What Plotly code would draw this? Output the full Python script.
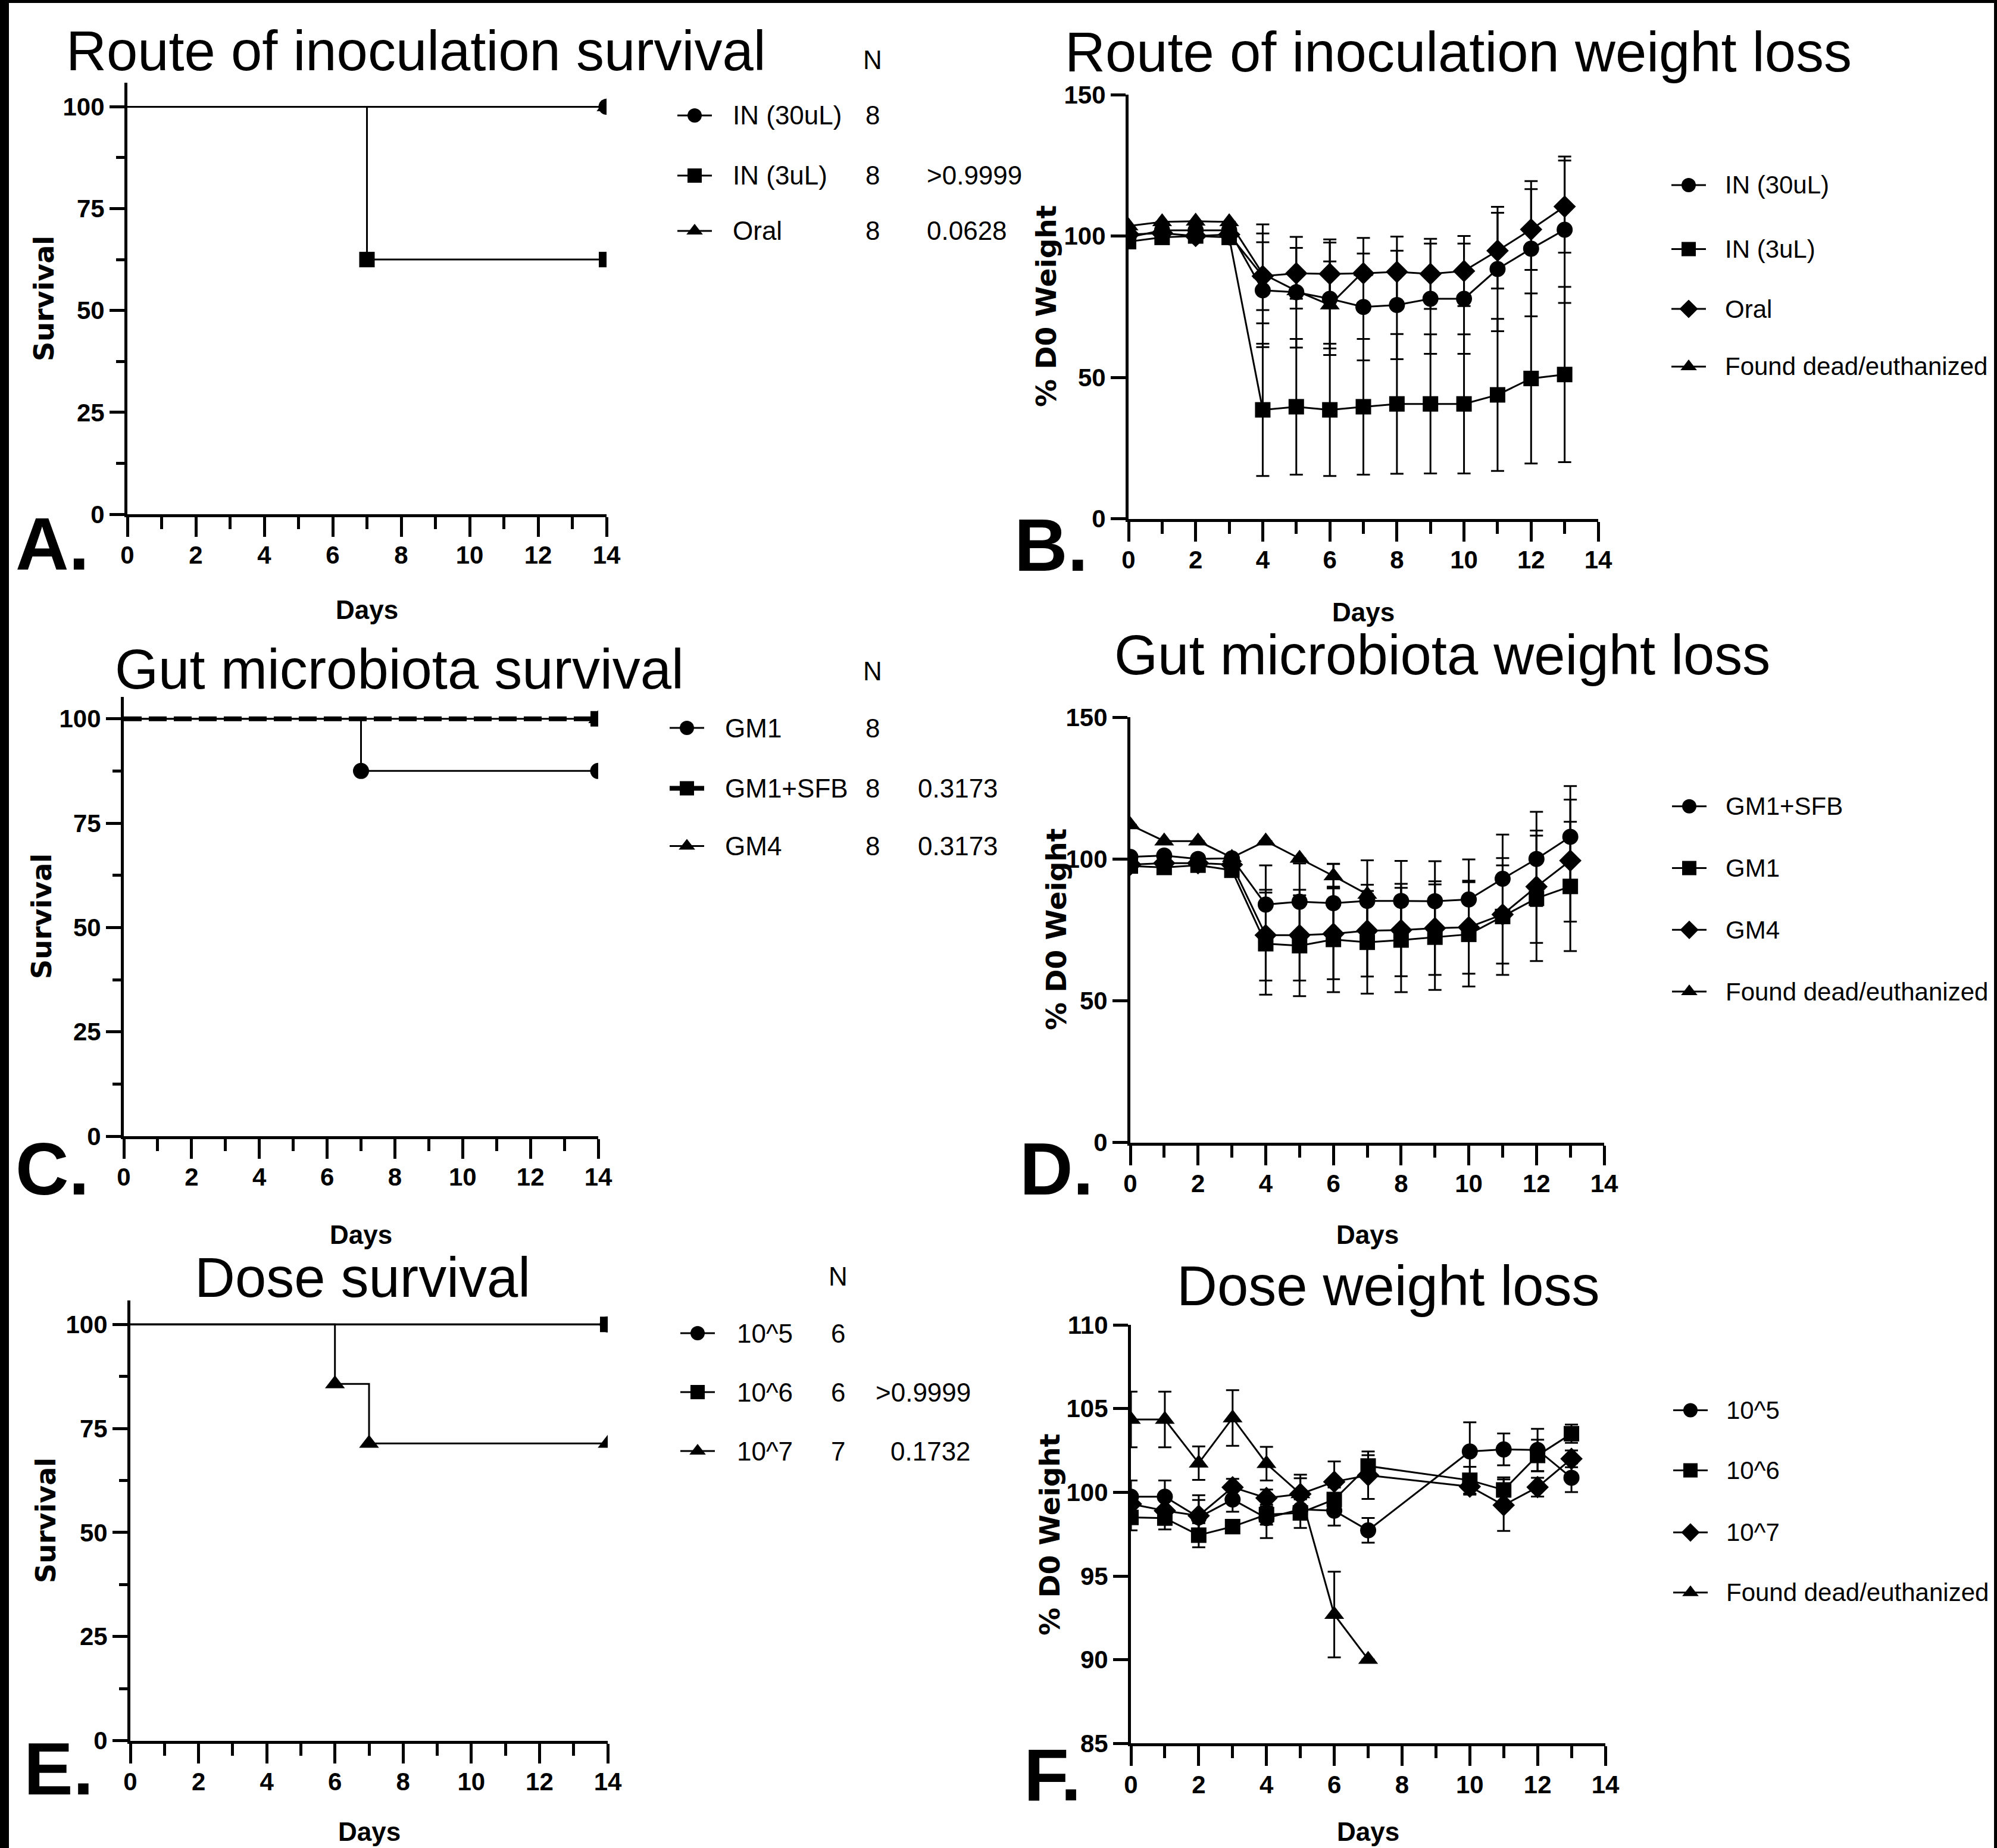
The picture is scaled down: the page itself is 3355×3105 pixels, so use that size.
import plotly.graph_objects as go

W, H = 3355, 3105

# ---------------- DATA ----------------
# Panel A: route of inoculation survival (Kaplan-Meier)
A_labels = ["IN (30uL)", "IN (3uL)", "Oral"]
A_n = ["8", "8", "8"]
A_p = ["", ">0.9999", "0.0628"]
A_in30_days = [0, 14]
A_in30_surv = [100, 100]
A_in3_days = [0, 7, 14]
A_in3_surv = [100, 62.5, 62.5]
A_oral_days = [0, 14]
A_oral_surv = [100, 100]

# Panel B: route of inoculation weight loss
B_labels = ["IN (30uL)", "IN (3uL)", "Oral", "Found dead/euthanized"]
B_days = [0, 1, 2, 3, 4, 5, 6, 7, 8, 9, 10, 11, 12, 13]
B_in30 = [99.5, 102, 102, 102, 80.8, 80.1, 77.8, 74.9, 75.6, 77.8, 77.8, 88.3, 95.5, 102.2]
B_in30_err = [None, None, None, None, 20.1, 19.6, 19.9, 18.9, 19.2, 19.5, 19.5, 22.0, 23.9, 25.9]
B_in3 = [98, 99.5, 100, 99.5, 38.5, 39.6, 38.5, 39.6, 40.6, 40.6, 40.6, 43.8, 49.6, 51.0]
B_in3_err = [None, None, None, None, 23.4, 24.0, 23.4, 24.0, 24.7, 24.6, 24.6, 26.9, 30.1, 31.0]
B_oral = [100.5, 101, 100, 100.5, 85.8, 86.8, 86.6, 86.8, 87.3, 86.6, 87.6, 94.8, 102.3, 110.4]
B_oral_err = [None, None, None, None, 12.0, 9.0, 12.2, 12.5, 12.5, 12.4, 12.4, 13.4, 14.3, 16.3]
B_dead_days = [0, 1, 2, 3, 4, 5, 6, 7]
B_dead = [103.5, 105, 105.2, 105, 86.6, 80.6, 75.6, 87.4]
B_dead_err = [None, None, None, None, 17.5, 6.3, 15.4, None]

# Panel C: gut microbiota survival
C_labels = ["GM1", "GM1+SFB", "GM4"]
C_n = ["8", "8", "8"]
C_p = ["", "0.3173", "0.3173"]
C_gm1_days = [0, 7, 14]
C_gm1_surv = [100, 87.5, 87.5]
C_sfb_days = [0, 14]
C_sfb_surv = [100, 100]
C_gm4_days = [0, 14]
C_gm4_surv = [100, 100]

# Panel D: gut microbiota weight loss
D_labels = ["GM1+SFB", "GM1", "GM4", "Found dead/euthanized"]
D_days = [0, 1, 2, 3, 4, 5, 6, 7, 8, 9, 10, 11, 12, 13]
D_sfb = [100.7, 101.2, 100, 100.2, 83.9, 84.9, 84.4, 85.2, 85.2, 85.1, 85.7, 93.0, 100.0, 107.8]
D_sfb_err = [None, None, None, None, 13.8, 13.5, 13.9, 14.3, 14.1, 14.1, 14.1, 15.6, 16.6, 17.9]
D_gm1 = [97.5, 97.0, 97.8, 96.0, 70.1, 69.4, 71.6, 70.6, 71.4, 72.4, 73.4, 79.7, 86.1, 90.3]
D_gm1_err = [None, None, None, None, 18.0, 17.8, 18.6, 18.1, 18.4, 18.6, 18.4, 20.6, 22.1, 22.8]
D_gm4 = [98.0, 98.5, 98.5, 98.0, 73.1, 73.1, 73.6, 74.7, 74.9, 75.6, 75.9, 80.4, 90.2, 99.4]
D_gm4_err = [None, None, None, None, 16.0, 16.0, 16.0, 16.2, 16.3, 16.5, 16.4, 17.3, 19.8, 21.5]
D_dead_days = [0, 1, 2, 3, 4, 5, 6, 7]
D_dead = [112.0, 106.3, 106.3, 100.5, 106.3, 100.2, 94.0, 87.5]
D_dead_err = [None, None, None, None, None, None, 4.2, None]

# Panel E: dose survival
E_labels = ["10^5", "10^6", "10^7"]
E_n = ["6", "6", "7"]
E_p = ["", ">0.9999", "0.1732"]
E_d5_days = [0, 14]
E_d5_surv = [100, 100]
E_d6_days = [0, 14]
E_d6_surv = [100, 100]
E_d7_days = [0, 6, 7, 14]
E_d7_surv = [100, 85.7, 71.4, 71.4]

# Panel F: dose weight loss
F_labels = ["10^5", "10^6", "10^7", "Found dead/euthanized"]
F_days = [0, 1, 2, 3, 4, 5, 6, 7, 10, 11, 12, 13]
F_d5 = [99.74, 99.74, 98.5, 99.57, 98.46, 98.98, 98.9, 97.73, 102.44, 102.56, 102.53, 100.87]
F_d5_err = [0.97, 0.97, 1.33, 0.73, 1.19, 0.6, 0.89, 0.74, 1.74, 0.95, 1.26, 0.86]
F_d6 = [98.5, 98.46, 97.44, 97.95, 98.67, 98.77, 99.57, 101.57, 100.72, 100.14, 102.2, 103.5]
F_d6_err = [0.77, 0.68, 0.72, None, 0.6, 0.9, 0.72, 0.65, 0.8, 0.75, 0.94, 0.55]
F_d7 = [99.3, 98.9, 98.6, 100.3, 99.66, 99.9, 100.63, 101.02, 100.34, 99.23, 100.31, 102.0]
F_d7_err = [None, None, 0.94, 0.5, 0.5, 0.94, 1.21, 1.42, 0.48, 1.54, 0.56, 0.5]
F_dead_days = [0, 1, 2, 3, 4, 5, 6, 7]
F_dead = [104.35, 104.35, 101.74, 104.44, 101.71, 99.91, 92.7, 90.02]
F_dead_err = [1.66, 1.66, 1.0, 1.66, 1.0, 1.14, 2.56, None]

# ---------------- STYLE ----------------
SANS = "Liberation Sans, Arial, sans-serif"
WIDE = "DejaVu Sans, Verdana, sans-serif"
BLACK = "black"
TICK_FONT = dict(family=SANS, size=42, color=BLACK, weight="bold")
LEG_FONT = dict(family=SANS, size=44, color=BLACK)
WL_LEG_FONT = dict(family=SANS, size=42, color=BLACK)

fig = go.Figure()
layout = {}


def px_x(x):
    return x / W


def px_y(y):
    return 1 - y / H


def make_axes(idx, xpx, ypx, yrange, ydtick, yminor):
    sfx = "" if idx == 1 else str(idx)
    xa = dict(domain=[px_x(xpx[0]), px_x(xpx[1])], range=[0, 14], anchor="y" + sfx,
              showline=True, linewidth=5, linecolor=BLACK, mirror=False, automargin=False,
              ticks="outside", ticklen=33, tickwidth=5, tickcolor=BLACK,
              tick0=0, dtick=2, tickfont=TICK_FONT, ticklabelstandoff=-5,
              minor=dict(ticks="outside", ticklen=20, tickwidth=5, tickcolor=BLACK, tick0=0, dtick=1),
              showgrid=False, zeroline=False, fixedrange=True)
    ya = dict(domain=[px_y(ypx[1]), px_y(ypx[0])], range=yrange, anchor="x" + sfx,
              showline=True, linewidth=5, linecolor=BLACK, automargin=False,
              ticks="outside", ticklen=25, tickwidth=5, tickcolor=BLACK,
              tick0=0, dtick=ydtick, tickfont=TICK_FONT, ticklabelstandoff=0,
              showgrid=False, zeroline=False, fixedrange=True)
    if yminor:
        ya["minor"] = dict(ticks="outside", ticklen=14, tickwidth=5, tickcolor=BLACK, tick0=0, dtick=yminor)
    layout["xaxis" + sfx] = xa
    layout["yaxis" + sfx] = ya
    return "x" + sfx, "y" + sfx


# panel geometry (pixels)
axA = make_axes(1, (214, 1019), (139, 864), [0, 105.9], 25, 12.5)
axB = make_axes(2, (1896, 2685), (159, 871.5), [0, 150], 50, None)
axC = make_axes(3, (208, 1005), (1170.5, 1909), [0, 105.3], 25, 12.5)
axD = make_axes(4, (1899, 2695), (1205, 1919.5), [0, 150], 50, None)
axE = make_axes(5, (219, 1021), (2184.6, 2924.6), [0, 105.8], 25, 12.5)
axF = make_axes(6, (1900, 2697), (2226, 2929.4), [85, 110], 5, None)

SYM = {"circle": 27, "square": 26, "triangle-up": 29, "diamond": 29}


def km(ax, days, surv, symbol, width=3, dash="solid"):
    fig.add_trace(go.Scatter(x=days, y=surv, mode="lines", line=dict(shape="hv", color=BLACK, width=width, dash=dash),
                             xaxis=ax[0], yaxis=ax[1], showlegend=False, hoverinfo="skip"))
    fig.add_trace(go.Scatter(x=days[1:], y=surv[1:], mode="markers",
                             marker=dict(symbol=symbol, size=SYM[symbol], color=BLACK),
                             xaxis=ax[0], yaxis=ax[1], showlegend=False, hoverinfo="skip"))


def wl(ax, days, vals, err, symbol):
    fig.add_trace(go.Scatter(x=days, y=vals, mode="lines+markers",
                             line=dict(color=BLACK, width=3),
                             marker=dict(symbol=symbol, size=SYM[symbol], color=BLACK),
                             error_y=dict(type="data", array=err, visible=True, color=BLACK, thickness=3, width=11),
                             xaxis=ax[0], yaxis=ax[1], showlegend=False, hoverinfo="skip"))


# Panel A
km(axA, A_in30_days, A_in30_surv, "circle")
km(axA, A_in3_days, A_in3_surv, "square")
km(axA, A_oral_days, A_oral_surv, "triangle-up")
# Panel B
wl(axB, B_days, B_in3, B_in3_err, "square")
wl(axB, B_dead_days, B_dead, B_dead_err, "triangle-up")
wl(axB, B_days, B_in30, B_in30_err, "circle")
wl(axB, B_days, B_oral, B_oral_err, "diamond")
# Panel C
km(axC, C_gm4_days, C_gm4_surv, "triangle-up")
km(axC, C_gm1_days, C_gm1_surv, "circle")
km(axC, C_sfb_days, C_sfb_surv, "square", width=8, dash="30px,12px")
# Panel D
wl(axD, D_days, D_gm1, D_gm1_err, "square")
wl(axD, D_days, D_gm4, D_gm4_err, "diamond")
wl(axD, D_dead_days, D_dead, D_dead_err, "triangle-up")
wl(axD, D_days, D_sfb, D_sfb_err, "circle")
# Panel E
km(axE, E_d5_days, E_d5_surv, "circle")
km(axE, E_d6_days, E_d6_surv, "square")
km(axE, E_d7_days, E_d7_surv, "triangle-up")
# Panel F
wl(axF, F_dead_days, F_dead, F_dead_err, "triangle-up")
wl(axF, F_days, F_d7, F_d7_err, "diamond")
wl(axF, F_days, F_d6, F_d6_err, "square")
wl(axF, F_days, F_d5, F_d5_err, "circle")

# overlay pixel axis for legend glyphs
layout["xaxis7"] = dict(domain=[0, 1], range=[0, W], anchor="y7", visible=False, fixedrange=True, automargin=False)
layout["yaxis7"] = dict(domain=[0, 1], range=[H, 0], anchor="x7", visible=False, fixedrange=True, automargin=False)

annotations = []


def text(x, y, s, font, xanchor="center", yanchor="middle", angle=0):
    annotations.append(dict(x=px_x(x), y=px_y(y), xref="paper", yref="paper", text=s, showarrow=False,
                            font=font, xanchor=xanchor, yanchor=yanchor, textangle=angle))


def glyph(xc, y, half, symbol, lw=3, msize=24):
    fig.add_trace(go.Scatter(x=[xc - half, xc + half], y=[y, y], mode="lines", line=dict(color=BLACK, width=lw),
                             xaxis="x7", yaxis="y7", showlegend=False, hoverinfo="skip", cliponaxis=False))
    fig.add_trace(go.Scatter(x=[xc], y=[y], mode="markers", marker=dict(symbol=symbol, size=msize, color=BLACK),
                             xaxis="x7", yaxis="y7", showlegend=False, hoverinfo="skip", cliponaxis=False))


def km_legend(labels, ns, ps, symbols, glyph_x, text_x, n_x, p_x, p_anchor, n_y, rows, thick=None):
    text(n_x, n_y, "N", LEG_FONT)
    for i, lab in enumerate(labels):
        glyph(glyph_x, rows[i], 29, symbols[i], lw=(8 if thick == i else 3))
        text(text_x, rows[i], lab, LEG_FONT, xanchor="left")
        text(n_x, rows[i], ns[i], LEG_FONT)
        if ps[i]:
            text(p_x, rows[i], ps[i], LEG_FONT, xanchor=p_anchor)


def wl_legend(labels, symbols, glyph_x, text_x, rows):
    for i, lab in enumerate(labels):
        glyph(glyph_x, rows[i], 29, symbols[i])
        text(text_x, rows[i], lab, WL_LEG_FONT, xanchor="left")


km_legend(A_labels, A_n, A_p, ["circle", "square", "triangle-up"], 1167, 1229, 1466, 1555, "left",
          100, [194, 295, 388])
km_legend(C_labels, C_n, C_p, ["circle", "square", "triangle-up"], 1154, 1216, 1466, 1540, "left",
          1127, [1223, 1324.5, 1421.6], thick=1)
km_legend(E_labels, E_n, E_p, ["circle", "square", "triangle-up"], 1172, 1236, 1408, 1633, "right",
          2144, [2240, 2339, 2438])
wl_legend(B_labels, ["circle", "square", "diamond", "triangle-up"], 2837, 2896, [311, 418.5, 519, 616])
wl_legend(D_labels, ["circle", "square", "diamond", "triangle-up"], 2838, 2897, [1354.7, 1458.5, 1562.3, 1666])
wl_legend(F_labels, ["circle", "square", "diamond", "triangle-up"], 2840, 2898, [2369.6, 2470.5, 2574.8, 2675.7])

TITLE_FONT = dict(family=SANS, size=94, color=BLACK)
text(699, 85, "Route of inoculation survival", TITLE_FONT)
text(2450, 88, "Route of inoculation weight loss", TITLE_FONT)
text(671, 1124, "Gut microbiota survival", TITLE_FONT)
text(2423, 1100, "Gut microbiota weight loss", TITLE_FONT)
text(609, 2146, "Dose survival", TITLE_FONT)
text(2332, 2160, "Dose weight loss", TITLE_FONT)

DAYS_FONT = dict(family=SANS, size=44, color=BLACK, weight="bold")
text(616, 1024.6, "Days", DAYS_FONT)
text(2290, 1028, "Days", DAYS_FONT)
text(606, 2074.6, "Days", DAYS_FONT)
text(2297, 2074.6, "Days", DAYS_FONT)
text(620, 3077, "Days", DAYS_FONT)
text(2298, 3077, "Days", DAYS_FONT)

SURV_FONT = dict(family=WIDE, size=46, color=BLACK, weight="bold")
text(74, 502, "Survival", SURV_FONT, angle=-90)
text(70, 1540, "Survival", SURV_FONT, angle=-90)
text(77, 2555, "Survival", SURV_FONT, angle=-90)
WT_FONT = dict(family=WIDE, size=47, color=BLACK, weight="bold")
text(1758, 515, "% D0 Weight", WT_FONT, angle=-90)
text(1774, 1562, "% D0 Weight", WT_FONT, angle=-90)
text(1763, 2578, "% D0 Weight", WT_FONT, angle=-90)

LETTER_FONT = dict(family=SANS, size=124, color=BLACK, weight="bold")
text(88, 914, "A.", LETTER_FONT)
text(1766, 916, "B.", LETTER_FONT)
text(88, 1964, "C.", LETTER_FONT)
text(1775, 1964, "D.", LETTER_FONT)
text(98, 2972, "E.", LETTER_FONT)
text(1768, 2982, "F.", LETTER_FONT)

shapes = [
    dict(type="rect", xref="paper", yref="paper", x0=0, x1=px_x(15), y0=0, y1=1, fillcolor=BLACK, line=dict(width=0)),
    dict(type="rect", xref="paper", yref="paper", x0=0, x1=1, y0=px_y(5), y1=1, fillcolor=BLACK, line=dict(width=0)),
    dict(type="rect", xref="paper", yref="paper", x0=px_x(W - 5), x1=1, y0=0, y1=1, fillcolor=BLACK, line=dict(width=0)),
]

fig.update_layout(width=W, height=H, margin=dict(l=0, r=0, t=0, b=0, pad=0, autoexpand=False),
                  paper_bgcolor="white", plot_bgcolor="rgba(0,0,0,0)", showlegend=False,
                  annotations=annotations, shapes=shapes, **layout)
fig.write_html("out.html", config={"displayModeBar": False},
               post_script="document.body.style.margin='0px';")
